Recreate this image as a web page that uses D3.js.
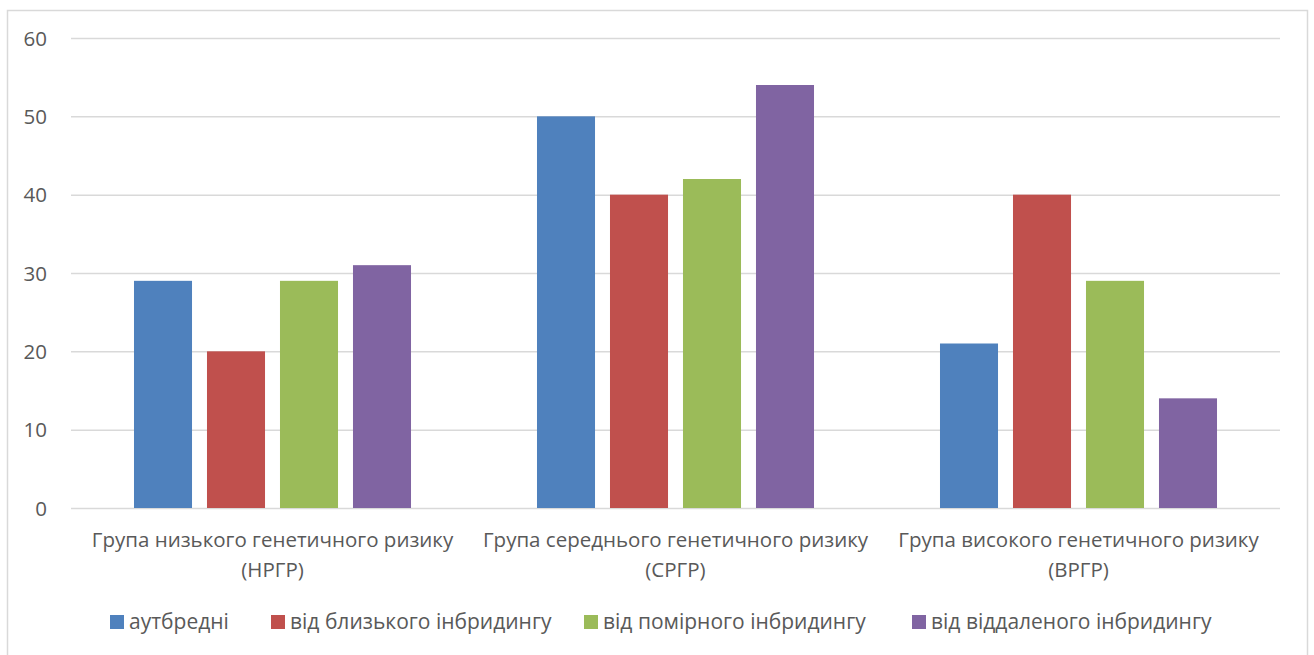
<!DOCTYPE html>
<html>
<head>
<meta charset="utf-8">
<script src="https://cdn.jsdelivr.net/npm/d3@7"></script>
<style>
  html, body { margin: 0; padding: 0; background: #fff; }
  svg { display: block; }
  text { font-family: "Open Sans", "Noto Sans", sans-serif; fill: #595959; }
</style>
</head>
<body>
<svg id="chart" width="1314" height="655"></svg>
<script>
// Groups on the x axis (two-line labels)
const categories = [
  ["Група низького генетичного ризику", "(НРГР)"],
  ["Група середнього генетичного ризику", "(СРГР)"],
  ["Група високого генетичного ризику", "(ВРГР)"]
];
// Series names and colours
const seriesNames = ["аутбредні", "від близького інбридингу", "від помірного інбридингу", "від віддаленого інбридингу"];
const seriesColors = ["#4f81bd", "#c0504d", "#9bbb59", "#8064a2"];
// Values per series, one per group
const autbredni = [29, 50, 21];
const blyzkyi = [20, 40, 40];
const pomirnyi = [29, 42, 29];
const viddalenyi = [31, 54, 14];
const yTicks = [0, 10, 20, 30, 40, 50, 60];

const seriesValues = [autbredni, blyzkyi, pomirnyi, viddalenyi];

const svg = d3.select("#chart");

// outer chart frame
svg.append("rect")
  .attr("x", 7.5).attr("y", 10.5)
  .attr("width", 1300).attr("height", 660)
  .attr("fill", "none").attr("stroke", "#d9d9d9").attr("stroke-width", 1.5);

const plot = { left: 71, right: 1280, top: 38, bottom: 508 };

const y = d3.scaleLinear().domain([0, 60]).range([plot.bottom, plot.top]);
const x0 = d3.scaleBand().domain(d3.range(categories.length)).range([plot.left, plot.right]).padding(0);
const gw = x0.bandwidth();
const x1 = d3.scaleBand().domain(d3.range(seriesNames.length))
  .range([gw * 0.1563, gw * 0.8437]).paddingInner(0.205).paddingOuter(0);

// gridlines and value labels
const yAxis = d3.axisLeft(y).tickValues(yTicks).tickSize(-(plot.right - plot.left)).tickPadding(24);
const gy = svg.append("g").attr("transform", `translate(${plot.left},0)`).call(yAxis);
gy.attr("font-size", null).attr("font-family", null);
gy.select(".domain").remove();
gy.selectAll(".tick line").attr("stroke", "#d9d9d9").attr("stroke-width", 1.5);
gy.selectAll(".tick text").attr("fill", "#595959")
  .style("font-size", "20.5px").attr("dy", "0.35em");

// bars
const groups = svg.append("g").selectAll("g")
  .data(categories.map((c, i) => i))
  .join("g")
  .attr("transform", i => `translate(${x0(i)},0)`);

groups.selectAll("rect")
  .data(i => seriesValues.map((vals, s) => ({ s, v: vals[i] })))
  .join("rect")
  .attr("x", d => x1(d.s))
  .attr("width", x1.bandwidth())
  .attr("y", d => y(d.v))
  .attr("height", d => y(0) - y(d.v))
  .attr("fill", d => seriesColors[d.s]);

// category labels
const labels = svg.append("g").selectAll("text")
  .data(categories)
  .join("text")
  .attr("text-anchor", "middle")
  .style("font-size", "20.5px")
  .attr("x", (d, i) => x0(i) + gw / 2)
  .attr("y", 547);
labels.selectAll("tspan")
  .data(d => d)
  .join("tspan")
  .attr("x", function () { return this.parentNode.getAttribute("x"); })
  .attr("dy", (d, i) => i === 0 ? 0 : 30)
  .text(d => d);

// legend
const legendX = [110, 271, 584, 912];
const legend = svg.append("g").selectAll("g")
  .data(seriesNames)
  .join("g")
  .attr("transform", (d, i) => `translate(${legendX[i]},615)`);
legend.append("rect").attr("width", 14).attr("height", 14).attr("fill", (d, i) => seriesColors[i]);
legend.append("text").attr("x", 19).attr("y", 7).attr("dy", "0.35em")
  .style("font-size", "21px").text(d => d);
</script>
</body>
</html>
